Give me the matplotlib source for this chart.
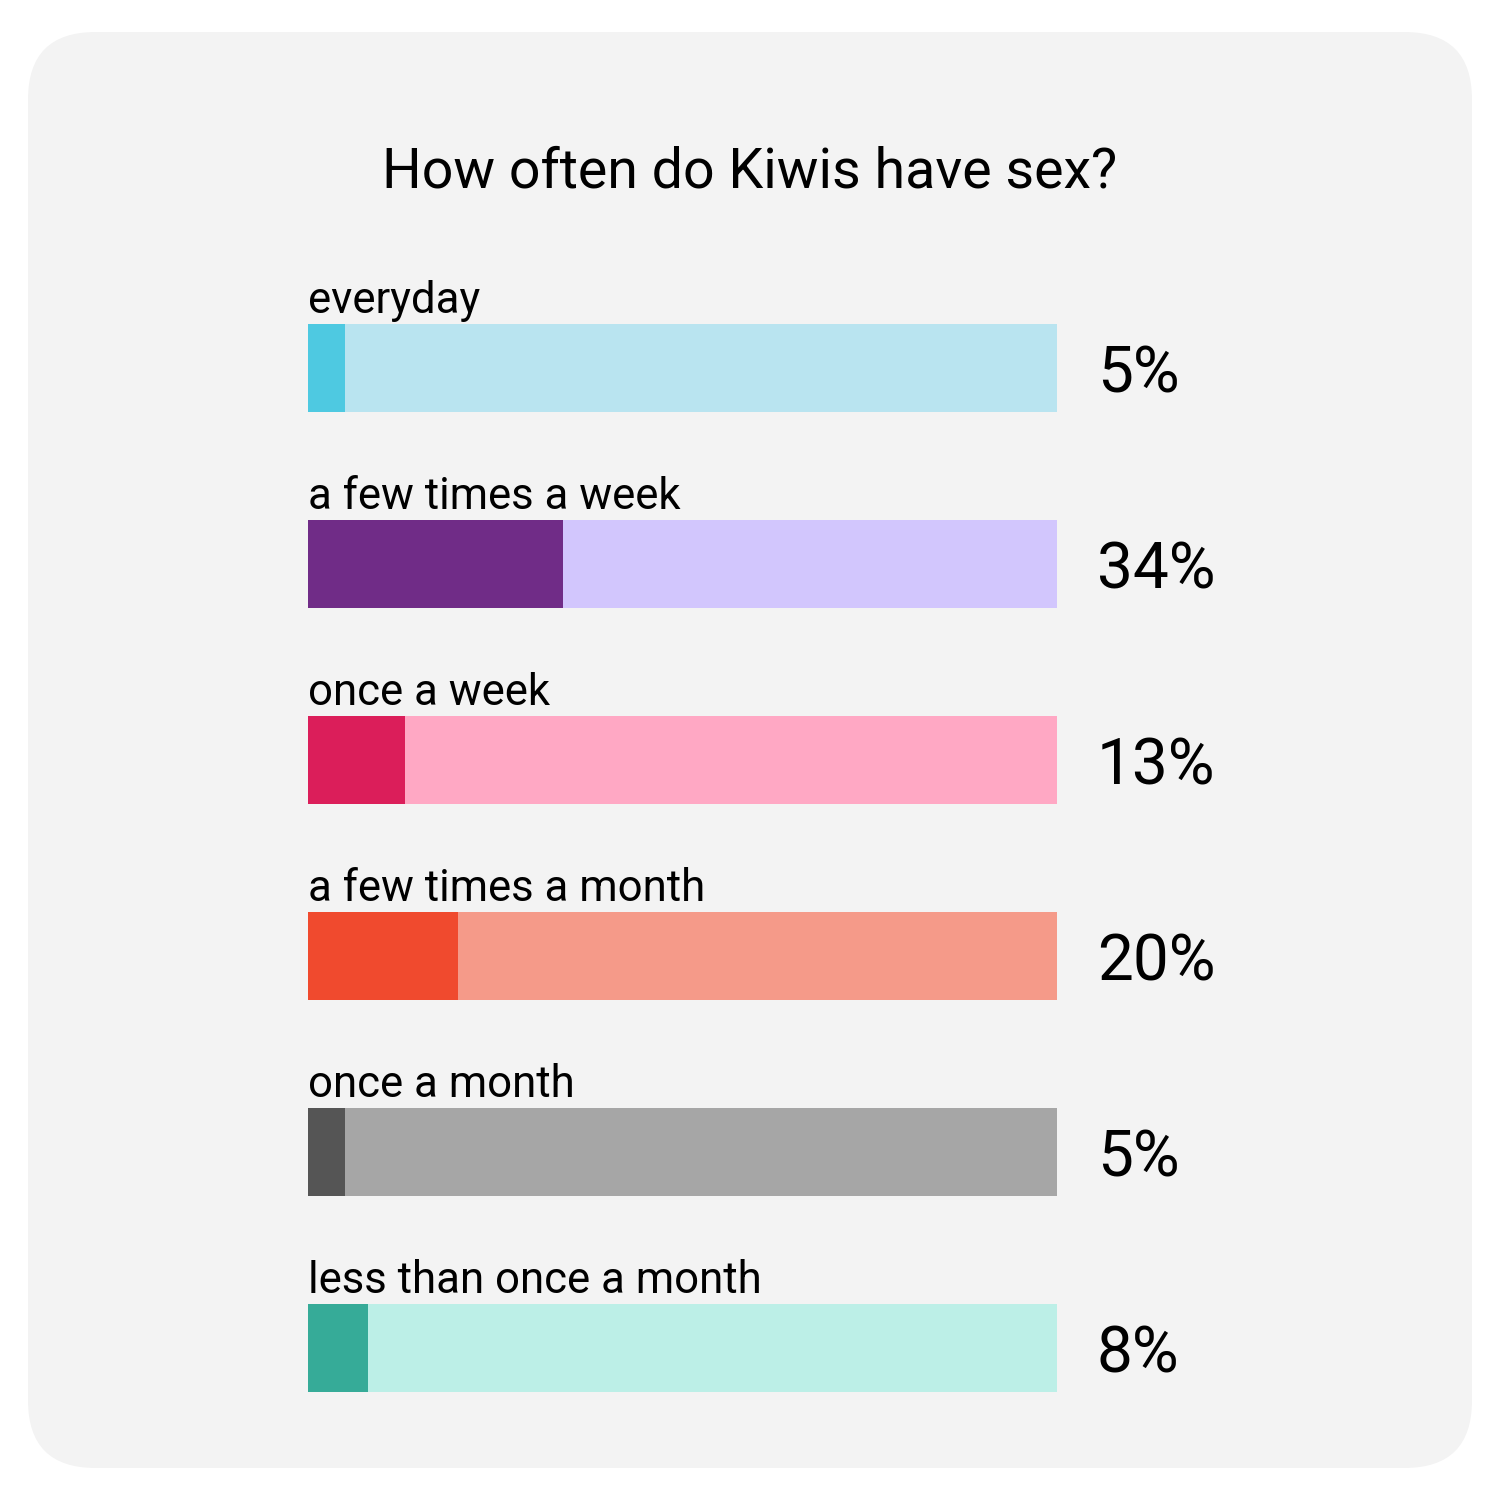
import matplotlib
matplotlib.use("Agg")
import matplotlib.pyplot as plt
from matplotlib.patches import FancyBboxPatch

categories = ["everyday", "a few times a week", "once a week",
              "a few times a month", "once a month", "less than once a month"]
values = [5, 34, 13, 20, 5, 8]
dark_colors = ["#4ec9e1", "#702c87", "#db1e5a", "#f04a2e", "#555555", "#36ab98"]
light_colors = ["#b9e4f0", "#d2c6fd", "#ffa8c4", "#f59a89", "#a6a6a6", "#bcefe7"]
title = "How often do Kiwis have sex?"

fig = plt.figure(figsize=(15, 15), dpi=100)
fig.patch.set_facecolor("white")

# rounded grey card behind everything
card = FancyBboxPatch((28 / 1500, 32 / 1500), 1444 / 1500, 1436 / 1500,
                      boxstyle="round,pad=0,rounding_size=0.045",
                      transform=fig.transFigure, facecolor="#f3f3f3",
                      edgecolor="none", zorder=-5)
fig.patches.append(card)

fig.text(0.5, 1 - 188 / 1500, title, ha="center", va="baseline",
         fontsize=40, family="Roboto", color="black")

ax = fig.add_axes([308 / 1500, 1 - 1446 / 1500, 749 / 1500, 1176 / 1500])
ax.set_zorder(2)
ax.set_facecolor("none")
ax.set_xlim(0, 100)
ax.set_ylim(len(categories) - 0.5, -0.5)
ax.axis("off")

h = 0.45
ys = list(range(len(categories)))
ax.barh(ys, [100] * len(values), height=h, color=light_colors, linewidth=0)
ax.barh(ys, values, height=h, color=dark_colors, linewidth=0)

for y, cat, v in zip(ys, categories, values):
    ax.text(0, y - h / 2 - 0.056, cat, ha="left", va="baseline",
            fontsize=31.5, family="Roboto", color="black")
    ax.text(105.3, y + 0.125, f"{v}%", ha="left", va="baseline",
            fontsize=46, family="Roboto", color="black")

fig.savefig("out.png", dpi=100)
